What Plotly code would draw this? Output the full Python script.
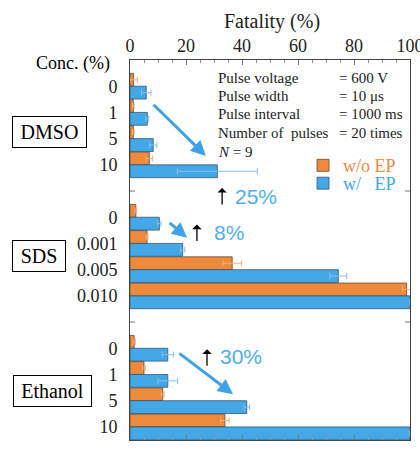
import plotly.graph_objects as go

# Solvent groups and their concentration labels (%)
groups = ["DMSO", "SDS", "Ethanol"]
conc_dmso = ["0", "1", "5", "10"]
conc_sds = ["0", "0.001", "0.005", "0.010"]
conc_eth = ["0", "1", "5", "10"]

# Fatality (%) without electroporation (w/o EP)
wo_dmso = [1.3, 1.2, 1.2, 6.9]
wo_sds = [2.1, 6.1, 36.5, 98.8]
wo_eth = [1.5, 5.0, 11.7, 33.9]
wo_err_dmso = [1.3, 0.3, 0.3, 1.2]
wo_err_sds = [0.3, 0.3, 3.3, 1.5]
wo_err_eth = [0.4, 0.5, 0.5, 1.5]

# Fatality (%) with electroporation (w/ EP)
w_dmso = [5.8, 6.2, 8.3, 31.2]
w_sds = [10.5, 18.8, 74.4, 100.0]
w_eth = [13.5, 13.5, 41.7, 100.0]
w_err_dmso = [1.7, 0.5, 1.3, 14.3]
w_err_sds = [0.6, 0.8, 3.0, 0.0]
w_err_eth = [2.0, 3.5, 1.0, 0.3]

# Increase in fatality caused by EP, per solvent
increase_labels = ["25%", "8%", "30%"]

ORANGE = "#EE8A3C"
BLUE = "#44A7E6"
SERIF = "Liberation Serif"
SANS = "Liberation Sans"

conc_all = conc_dmso + conc_sds + conc_eth
wo_all = wo_dmso + wo_sds + wo_eth
wo_err_all = wo_err_dmso + wo_err_sds + wo_err_eth
w_all = w_dmso + w_sds + w_eth
w_err_all = w_err_dmso + w_err_sds + w_err_eth

# each group takes four rows plus one spacer row
ypos = [g * 5 + i + 1 for g in range(3) for i in range(4)]

fig = go.Figure()
fig.add_trace(go.Bar(
    y=ypos, x=wo_all, orientation="h", legend="legend",
    name="<span style='color:%s'>w/o EP</span>" % ORANGE,
    marker=dict(color=ORANGE, line=dict(color="rgba(90,70,60,0.75)", width=1)),
    error_x=dict(type="data", array=wo_err_all, color="#F6AE78", thickness=1, width=3),
))
fig.add_trace(go.Bar(
    y=ypos, x=w_all, orientation="h", legend="legend2",
    name="<span style='color:%s'>w/\u00a0\u00a0\u00a0EP</span>" % BLUE,
    marker=dict(color=BLUE, line=dict(color="rgba(50,80,110,0.75)", width=1)),
    error_x=dict(type="data", array=w_err_all, color="#86BFF2", thickness=1, width=3),
))

# small inner ticks marking the group separators
for yb in (5, 10):
    for x0, x1 in ((0, 0.018), (0.982, 1)):
        fig.add_shape(type="line", xref="paper", yref="y", x0=x0, x1=x1, y0=yb, y1=yb,
                      line=dict(color="#777", width=1))

ann = []
# boxed solvent names
for name, (px, py, w) in zip(groups, [(-0.2875, 0.8105, 69), (-0.325, 0.484, 48), (-0.2768, 0.129, 73)]):
    ann.append(dict(text=name, xref="paper", yref="paper", x=px, y=py, showarrow=False,
                    xanchor="center", yanchor="middle",
                    font=dict(family=SERIF, size=20, color="black"),
                    bordercolor="black", borderwidth=1, borderpad=2, width=w, height=26))
ann.append(dict(text="Conc. (%)", xref="paper", yref="paper", x=-0.064, y=0.992,
                xanchor="right", yanchor="middle", showarrow=False,
                font=dict(family=SERIF, size=18, color="black")))
ann.append(dict(text="Fatality (%)", xref="paper", yref="paper", x=0.507, y=1.10,
                xanchor="center", yanchor="middle", showarrow=False,
                font=dict(family=SERIF, size=20, color="#222")))

# pulse conditions
conds = [("Pulse voltage", "= 600 V"), ("Pulse width", "= 10 \u03bcs"),
         ("Pulse interval", "= 1000 ms"), ("Number of\u00a0 pulses", "= 20 times")]
rows_y = [0.70, 1.38, 2.07, 2.79]
for (lab, val), yy in zip(conds, rows_y):
    ann.append(dict(text=lab, x=30.7, y=yy, xanchor="left", showarrow=False,
                    font=dict(family=SERIF, size=15, color="#222")))
    ann.append(dict(text=val, x=73.9, y=yy, xanchor="left", showarrow=False,
                    font=dict(family=SERIF, size=15, color="#222")))
ann.append(dict(text="<i>N</i> = 9", x=30.7, y=3.51, xanchor="left", showarrow=False,
                font=dict(family=SERIF, size=15, color="#222")))

# blue trend arrows
for (hx, hy, tx, ty) in [(27.1, 3.66, 7.9, 1.65), (20.4, 6.78, 13.6, 6.17), (36.8, 12.75, 17.1, 11.15)]:
    ann.append(dict(x=hx, y=hy, ax=tx, ay=ty, axref="x", ayref="y", text="",
                    showarrow=True, arrowhead=2, arrowsize=1, arrowwidth=3, arrowcolor="#3EA3E6"))

# black up arrows with the increase labels
for lab, (ux, uy), (lx, ly) in zip(increase_labels,
                                   [(32.9, 4.88), (23.9, 6.28), (27.5, 11.04)],
                                   [(36.8, 5.2), (29.3, 6.59), (31.4, 11.3)]):
    ann.append(dict(x=ux, y=uy, ax=0, ay=18, text="", showarrow=True, arrowhead=1,
                    arrowsize=1.2, arrowwidth=1.3, arrowcolor="black"))
    ann.append(dict(text=lab, x=lx, y=ly, xanchor="left", showarrow=False,
                    font=dict(family=SANS, size=21, color="#4FAEEB")))

legend_style = dict(xanchor="left", yanchor="middle", bgcolor="rgba(0,0,0,0)",
                    font=dict(family=SERIF, size=18, color="black"), itemwidth=30,
                    borderwidth=0)

fig.update_layout(
    width=420, height=450,
    margin=dict(l=130, r=10, t=60, b=10, autoexpand=False),
    paper_bgcolor="white", plot_bgcolor="white",
    barmode="group", bargap=0.02, bargroupgap=0,
    showlegend=True,
    legend=dict(x=0.618, y=0.722, **legend_style),
    legend2=dict(x=0.618, y=0.675, **legend_style),
    annotations=ann,
    xaxis=dict(side="top", range=[0, 100], tickvals=[0, 20, 40, 60, 80, 100],
               ticks="inside", ticklen=5, tickcolor="#777", mirror="ticks",
               minor=dict(dtick=5, ticks="inside", ticklen=3, tickcolor="#999"),
               showline=True, linecolor="#444", linewidth=1, showgrid=False, zeroline=False,
               automargin=False, ticklabeloverflow="allow",
               tickfont=dict(family=SERIF, size=18, color="#222")),
    yaxis=dict(range=[14.5, 0], tickvals=ypos, ticktext=conc_all, ticks="",
               showline=True, linecolor="#444", linewidth=1, mirror=True,
               showgrid=False, zeroline=False, ticklabelstandoff=8, automargin=False,
               tickfont=dict(family=SERIF, size=18, color="#222")),
)

fig.write_html("out.html")
